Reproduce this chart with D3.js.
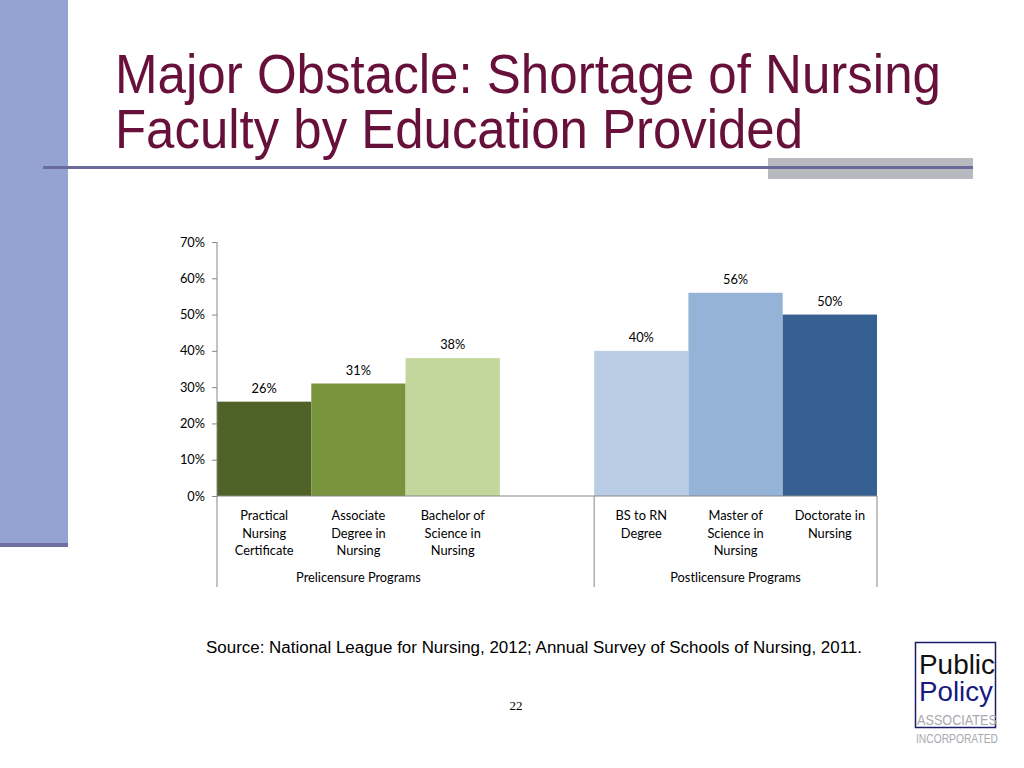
<!DOCTYPE html>
<html>
<head>
<meta charset="utf-8">
<script src="https://cdn.jsdelivr.net/npm/d3@7"></script>
<style>
  body { margin: 0; background: #fff; }
  svg { display: block; }
</style>
</head>
<body>
<svg id="slide" width="1024" height="768"></svg>
<script>
// chart data
const programs = ["Practical Nursing Certificate", "Associate Degree in Nursing", "Bachelor of Science in Nursing", "", "BS to RN Degree", "Master of Science in Nursing", "Doctorate in Nursing"];
const labelLines = [["Practical", "Nursing", "Certificate"], ["Associate", "Degree in", "Nursing"], ["Bachelor of", "Science in", "Nursing"], [], ["BS to RN", "Degree"], ["Master of", "Science in", "Nursing"], ["Doctorate in", "Nursing"]];
const shortage = [0.26, 0.31, 0.38, null, 0.40, 0.56, 0.50];
const barColors = ["#4f6228", "#77933c", "#c3d69b", "none", "#b9cde5", "#95b3d7", "#376092"];
const groups = ["Prelicensure Programs", "Postlicensure Programs"];
const groupSpans = [[0, 2], [4, 6]];
const yTicks = [0, 0.1, 0.2, 0.3, 0.4, 0.5, 0.6, 0.7];

const svg = d3.select("#slide");

// slide decoration
svg.append("rect").attr("x", 0).attr("y", 0).attr("width", 68).attr("height", 547).attr("fill", "#94a3d2");
svg.append("rect").attr("x", 0).attr("y", 543).attr("width", 68).attr("height", 4).attr("fill", "#6f6fa0");
svg.append("rect").attr("x", 768).attr("y", 158).attr("width", 205).attr("height", 21).attr("fill", "#b8b9be");
svg.append("rect").attr("x", 43).attr("y", 166).attr("width", 930).attr("height", 3).attr("fill", "#6b6b9b");

const title = svg.append("g")
    .attr("font-family", "Liberation Sans, Arial, sans-serif")
    .attr("font-size", 55)
    .attr("fill", "#66103a");
title.append("text").attr("x", 115).attr("y", 93)
    .attr("textLength", 826).attr("lengthAdjust", "spacingAndGlyphs")
    .text("Major Obstacle: Shortage of Nursing");
title.append("text").attr("x", 115).attr("y", 148)
    .attr("textLength", 688).attr("lengthAdjust", "spacingAndGlyphs")
    .text("Faculty by Education Provided");

// chart
const plotLeft = 217, plotRight = 877, plotTop = 242, plotBottom = 496;
const fontSize = 12.8;

const x = d3.scaleBand()
    .domain(d3.range(programs.length))
    .range([plotLeft, plotRight])
    .padding(0);

const y = d3.scaleLinear()
    .domain([0, 0.7])
    .range([plotBottom, plotTop]);

const chart = svg.append("g")
    .attr("font-family", "Lato, 'Open Sans', sans-serif")
    .attr("font-size", fontSize)
    .attr("fill", "#000");

const barData = shortage.map((v, i) => ({ v: v, i: i })).filter(d => d.v !== null);

// bars
chart.selectAll("rect.bar")
    .data(barData)
    .enter()
    .append("rect")
    .attr("class", "bar")
    .attr("x", d => x(d.i))
    .attr("y", d => y(d.v))
    .attr("width", x.bandwidth())
    .attr("height", d => y(0) - y(d.v))
    .attr("fill", d => barColors[d.i]);

// value labels
chart.selectAll("text.val")
    .data(barData)
    .enter()
    .append("text")
    .attr("class", "val")
    .attr("x", d => x(d.i) + x.bandwidth() / 2)
    .attr("y", d => y(d.v) - 9)
    .attr("text-anchor", "middle")
    .text(d => d3.format(".0%")(d.v));

// y axis
const yAxis = chart.append("g")
    .attr("transform", "translate(" + plotLeft + ",0)")
    .call(d3.axisLeft(y).tickValues(yTicks).tickFormat(d3.format(".0%")).tickSize(5).tickPadding(7));
yAxis.select(".domain").remove();
yAxis.selectAll("line").attr("stroke", "#868686");
yAxis.selectAll("text").attr("font-family", "Lato, 'Open Sans', sans-serif").attr("font-size", fontSize).attr("fill", "#000");

// axis lines
chart.append("line").attr("x1", plotLeft).attr("x2", plotLeft).attr("y1", plotTop).attr("y2", 587).attr("stroke", "#868686");
chart.append("line").attr("x1", plotLeft).attr("x2", plotRight).attr("y1", plotBottom).attr("y2", plotBottom).attr("stroke", "#868686");
chart.append("line").attr("x1", x(4)).attr("x2", x(4)).attr("y1", plotBottom).attr("y2", 587).attr("stroke", "#868686");
chart.append("line").attr("x1", plotRight).attr("x2", plotRight).attr("y1", plotBottom).attr("y2", 587).attr("stroke", "#868686");

// category labels
labelLines.forEach(function (lines, i) {
    const t = chart.append("text")
        .attr("x", x(i) + x.bandwidth() / 2)
        .attr("y", 520)
        .attr("text-anchor", "middle");
    lines.forEach(function (ln, j) {
        t.append("tspan")
            .attr("x", x(i) + x.bandwidth() / 2)
            .attr("dy", j === 0 ? 0 : 17.5)
            .text(ln);
    });
});

// group labels
groups.forEach(function (g, k) {
    const s = groupSpans[k];
    chart.append("text")
        .attr("x", (x(s[0]) + x(s[1]) + x.bandwidth()) / 2)
        .attr("y", 582)
        .attr("text-anchor", "middle")
        .text(g);
});

// source and page number
svg.append("text")
    .attr("x", 206).attr("y", 653)
    .attr("font-family", "Liberation Sans, Arial, sans-serif")
    .attr("font-size", 16)
    .attr("textLength", 656).attr("lengthAdjust", "spacingAndGlyphs")
    .text("Source: National League for Nursing, 2012; Annual Survey of Schools of Nursing, 2011.");
svg.append("text")
    .attr("x", 516).attr("y", 710)
    .attr("text-anchor", "middle")
    .attr("font-family", "Liberation Serif, 'Times New Roman', serif")
    .attr("font-size", 13)
    .text("22");

// logo
const logo = svg.append("g").attr("font-family", "Liberation Sans, Arial, sans-serif");
logo.append("rect").attr("x", 915.5).attr("y", 642.5).attr("width", 80).attr("height", 85)
    .attr("fill", "#fff").attr("stroke", "#1c1c6b").attr("stroke-width", 1.5);
logo.append("text").attr("x", 919).attr("y", 674).attr("font-size", 27)
    .attr("textLength", 76).attr("lengthAdjust", "spacingAndGlyphs").attr("fill", "#111").text("Public");
logo.append("text").attr("x", 919).attr("y", 701).attr("font-size", 27)
    .attr("textLength", 74).attr("lengthAdjust", "spacingAndGlyphs").attr("fill", "#1a1a80").text("Policy");
logo.append("text").attr("x", 917).attr("y", 725).attr("font-size", 14)
    .attr("textLength", 80).attr("lengthAdjust", "spacingAndGlyphs").attr("fill", "#a9a9b0").text("ASSOCIATES");
logo.append("text").attr("x", 916).attr("y", 743).attr("font-size", 13)
    .attr("textLength", 82).attr("lengthAdjust", "spacingAndGlyphs").attr("fill", "#a9a9b0").text("INCORPORATED");
</script>
</body>
</html>
